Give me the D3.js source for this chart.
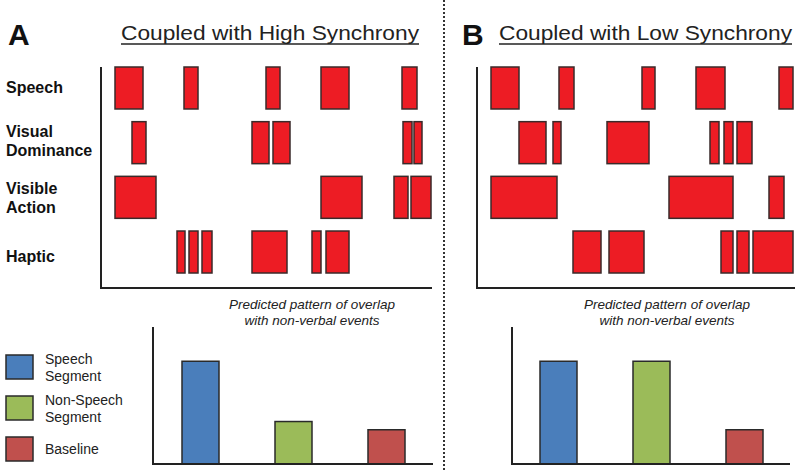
<!DOCTYPE html>
<html><head><meta charset="utf-8">
<script src="https://cdn.jsdelivr.net/npm/d3@7"></script>
<style>body{margin:0;background:#fff}svg{display:block}</style>
</head><body>
<script>
// ---- data ----
const rows = ["Speech", "Visual Dominance", "Visible Action", "Haptic"];
const rowLabels = [["Speech"], ["Visual", "Dominance"], ["Visible", "Action"], ["Haptic"]];
// events as [row, start, end] in time units
const eventsHigh = [
  [0,14,42],[0,83,97],[0,165,179],[0,220,248],[0,301,316],
  [1,31,45],[1,151,168],[1,172,189],[1,302,311],[1,313,321],
  [2,14,55],[2,220,261],[2,293,307],[2,310,330],
  [3,76,84],[3,88,97],[3,101,111],[3,151,186],[3,211,220],[3,225,248]
];
const eventsLow = [
  [0,14,42],[0,82,97],[0,165,178],[0,219,248],[0,302,316],
  [1,42,69],[1,76,84],[1,130,172],[1,233,242],[1,247,256],[1,260,275],
  [2,14,80],[2,192,256],[2,292,307],
  [3,96,124],[3,132,167],[3,244,256],[3,260,272],[3,276,316]
];
const barCategories = ["Speech Segment", "Non-Speech Segment", "Baseline"];
const legendLabels = [["Speech", "Segment"], ["Non-Speech", "Segment"], ["Baseline"]];
const overlapHigh = [0.75, 0.31, 0.25];
const overlapLow = [0.75, 0.75, 0.25];
const barColors = ["#4a7ebb", "#9bbb59", "#c0504d"];

const W = 795, H = 472;
const svg = d3.select("body").append("svg").attr("width", W).attr("height", H);
const FONT = "Liberation Sans, Arial, sans-serif";

// divider
svg.append("line").attr("x1", 444).attr("x2", 444).attr("y1", 0).attr("y2", H)
  .attr("stroke", "#333").attr("stroke-width", 2).attr("stroke-dasharray", "2,2");

const yRow = d3.scaleBand().domain(d3.range(rows.length)).range([67, 273]).paddingInner(0.232).paddingOuter(0);

function timeline(ax, axisRight, events) {
  const x = d3.scaleLinear().domain([0, 330]).range([ax, ax + 330]);
  const g = svg.append("g");
  g.selectAll("rect").data(events).enter().append("rect")
    .attr("x", d => x(d[1])).attr("width", d => x(d[2]) - x(d[1]))
    .attr("y", d => yRow(d[0])).attr("height", yRow.bandwidth())
    .attr("fill", "#ed1c24").attr("stroke", "#3a2a2a").attr("stroke-width", 1.5);
  g.append("path").attr("d", `M${ax},67V288H${axisRight}`)
    .attr("fill", "none").attr("stroke", "#222").attr("stroke-width", 2);
}
timeline(101, 432, eventsHigh);
timeline(477, 800, eventsLow);

// row labels (small per-row offsets, as in the figure)
const labelShift = [0, -1.5, 1, 4];
rowLabels.forEach((lines, i) => {
  const cy = yRow(i) + yRow.bandwidth() / 2 + labelShift[i];
  const t = svg.append("text").attr("x", 6).attr("font-family", FONT).attr("font-weight", "bold")
    .attr("font-size", 16).attr("fill", "#111");
  lines.forEach((l, j) => {
    t.append("tspan").attr("x", 6).attr("y", cy + 5.5 + (j - (lines.length - 1) / 2) * 19).text(l);
  });
});

// titles
svg.append("text").attr("x", 8).attr("y", 45).attr("font-family", FONT).attr("font-weight", "bold")
  .attr("font-size", 30).attr("fill", "#111").text("A");
svg.append("text").attr("x", 462).attr("y", 45).attr("font-family", FONT).attr("font-weight", "bold")
  .attr("font-size", 30).attr("fill", "#111").text("B");
function title(x, txt, w) {
  svg.append("text").attr("x", x).attr("y", 40).attr("font-family", FONT).attr("font-size", 21)
    .attr("fill", "#222").attr("textLength", w).attr("lengthAdjust", "spacingAndGlyphs").text(txt);
  svg.append("line").attr("x1", x).attr("x2", x + w).attr("y1", 44).attr("y2", 44)
    .attr("stroke", "#222").attr("stroke-width", 1.5);
}
title(121, "Coupled with High Synchrony", 298);
title(499, "Coupled with Low Synchrony", 293);

// bottom bar charts
const yVal = d3.scaleLinear().domain([0, 1]).range([464, 327]);
function barChart(ax, right, cx, vals, bx) {
  const g = svg.append("g");
  g.selectAll("rect").data(vals).enter().append("rect")
    .attr("x", (d, i) => bx[i]).attr("width", 37)
    .attr("y", d => yVal(d)).attr("height", d => yVal(0) - yVal(d))
    .attr("fill", (d, i) => barColors[i]).attr("stroke", "#2a2a2a").attr("stroke-width", 1.5);
  g.append("path").attr("d", `M${ax},${yVal(1)}V${yVal(0)}H${right}`)
    .attr("fill", "none").attr("stroke", "#222").attr("stroke-width", 2);
  const t = g.append("text").attr("text-anchor", "middle").attr("font-family", FONT)
    .attr("font-style", "italic").attr("font-size", 13.5).attr("fill", "#222");
  t.append("tspan").attr("x", cx).attr("y", 309).text("Predicted pattern of overlap");
  t.append("tspan").attr("x", cx).attr("y", 325).text("with non-verbal events");
}
barChart(153, 433, 312, overlapHigh, [182, 275, 368]);
barChart(512, 790, 667, overlapLow, [540, 633, 726]);

// legend
const legY = [355, 396, 437];
legendLabels.forEach((lines, i) => {
  svg.append("rect").attr("x", 6).attr("y", legY[i]).attr("width", 27).attr("height", 24)
    .attr("fill", barColors[i]).attr("stroke", "#2a2a2a").attr("stroke-width", 1.5);
  const t = svg.append("text").attr("font-family", FONT).attr("font-size", 14).attr("fill", "#222");
  const cy = legY[i] + 12;
  lines.forEach((l, j) => {
    t.append("tspan").attr("x", 45).attr("y", cy + 5 + (j - (lines.length - 1) / 2) * 17).text(l);
  });
});
</script>
</body></html>
